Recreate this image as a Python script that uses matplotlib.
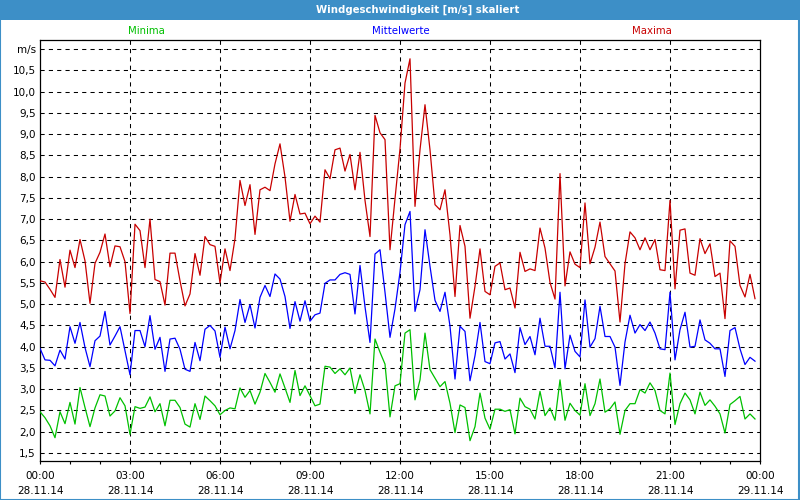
import numpy as np
import matplotlib
matplotlib.use("Agg")
import matplotlib.pyplot as plt
from matplotlib.patches import Rectangle

# ---- data (10-minute values, 28.11.14 00:00 .. 23:50) ----
maxima = [5.55,5.52,5.35,5.16,6.05,5.40,6.27,5.86,6.52,6.02,
          5.02,5.96,6.22,6.65,5.88,6.37,6.35,6.00,4.78,6.88,
          6.73,5.86,7.00,5.58,5.53,4.98,6.20,6.20,5.55,4.96,
          5.24,6.19,5.68,6.59,6.40,6.36,
          5.50,
          6.30,5.79,6.54,7.91,7.32,7.81,6.64,7.69,7.75,7.67,8.30,8.77,7.99,6.95,7.58,7.12,7.14,6.89,
          7.07,6.93,8.16,7.95,8.63,8.67,8.13,8.52,7.69,8.57,7.44,6.59,9.44,9.03,8.87,6.28,7.48,
          8.65,
          10.2,10.77,7.30,8.63,9.69,8.63,7.34,7.22,7.69,6.63,5.18,6.85,6.36,4.67,5.42,6.30,5.30,5.22,
          5.89,5.97,5.34,5.38,4.91,6.22,5.77,5.83,5.79,6.79,6.32,5.51,5.12,8.07,5.43,6.23,5.94,
          5.86,
          7.38,5.95,6.34,6.93,6.12,5.95,5.78,4.58,5.95,6.70,6.56,6.28,6.56,6.28,6.52,5.81,5.79,7.44,
          5.36,6.74,6.77,5.73,5.68,6.54,6.19,6.42,5.65,5.73,4.66,6.49,6.36,5.44,5.17,5.70,5.13]

mittel = [3.96,3.69,3.68,3.55,3.92,3.71,4.47,4.08,4.57,3.98,
          3.53,4.14,4.25,4.83,4.04,4.25,4.47,3.90,3.34,4.38,
          4.38,4.00,4.73,3.94,4.22,3.42,4.18,4.20,3.94,3.47,
          3.42,4.10,3.67,4.41,4.50,4.37,
          3.75,
          4.46,3.95,4.38,5.11,4.57,4.99,4.44,5.16,5.44,5.18,5.71,5.59,5.18,4.43,5.06,4.60,5.08,4.60,
          4.75,4.79,5.49,5.57,5.57,5.70,5.74,5.70,4.77,5.91,4.94,4.10,6.18,6.28,5.28,4.22,4.89,
          5.75,
          6.87,7.18,4.83,5.34,6.75,5.89,5.09,4.83,5.28,4.48,3.24,4.48,4.36,3.20,3.79,4.57,3.65,3.60,
          4.09,4.12,3.71,3.83,3.39,4.45,4.05,4.24,3.81,4.67,4.01,4.01,3.50,5.28,3.48,4.27,3.89,
          3.76,
          5.10,3.99,4.19,4.95,4.24,4.24,3.99,3.09,4.11,4.74,4.32,4.52,4.38,4.58,4.32,3.95,3.93,5.28,
          3.69,4.40,4.81,3.99,4.01,4.63,4.16,4.08,3.95,3.95,3.30,4.38,4.45,3.95,3.58,3.75,3.66]

minima = [2.47,2.33,2.14,1.86,2.47,2.19,2.69,2.18,3.04,2.57,
          2.12,2.56,2.87,2.84,2.37,2.49,2.80,2.61,1.94,2.59,
          2.55,2.58,2.82,2.47,2.66,2.14,2.74,2.74,2.57,2.18,
          2.11,2.66,2.29,2.84,2.73,2.61,
          2.40,
          2.50,2.56,2.54,3.03,2.81,2.97,2.65,2.93,3.37,3.16,2.93,3.36,3.03,2.69,3.44,2.85,3.08,2.85,
          2.61,2.65,3.54,3.52,3.37,3.48,3.34,3.50,2.90,3.34,2.97,2.42,4.18,3.87,3.59,2.35,3.08,
          3.13,
          4.32,4.40,2.75,3.22,4.32,3.46,3.26,3.06,3.18,2.67,1.98,2.63,2.57,1.79,2.12,2.91,2.32,2.06,
          2.53,2.53,2.48,2.52,1.95,2.79,2.59,2.53,2.30,2.95,2.38,2.56,2.27,3.22,2.27,2.67,2.50,
          2.39,
          3.13,2.38,2.66,3.24,2.46,2.54,2.70,1.94,2.50,2.66,2.66,2.99,2.91,3.15,2.97,2.50,2.42,3.38,
          2.17,2.66,2.91,2.75,2.42,2.93,2.62,2.75,2.60,2.42,1.97,2.64,2.73,2.83,2.30,2.42,2.30]

step_minutes = 10
xtick_hours = [0, 3, 6, 9, 12, 15, 18, 21, 24]
xtick_labels = ["00:00\n28.11.14", "03:00\n28.11.14", "06:00\n28.11.14",
                "09:00\n28.11.14", "12:00\n28.11.14", "15:00\n28.11.14",
                "18:00\n28.11.14", "21:00\n28.11.14", "00:00\n29.11.14"]
ytick_values = [1.5, 2.0, 2.5, 3.0, 3.5, 4.0, 4.5, 5.0, 5.5, 6.0, 6.5, 7.0,
                7.5, 8.0, 8.5, 9.0, 9.5, 10.0, 10.5, 11.0]
ytick_labels = [f"{v:.1f}".replace(".", ",") for v in ytick_values[:-1]] + ["m/s"]
title = "Windgeschwindigkeit [m/s] skaliert"
series_names = ["Minima", "Mittelwerte", "Maxima"]

# ---- styles ----
C_MIN, C_MID, C_MAX = "#00c000", "#0000ff", "#c80000"
HEADER = "#3d8fc7"
plt.rcParams['font.family'] = ['DejaVu Sans']

fig = plt.figure(figsize=(8, 5), dpi=100)
fig.patch.set_facecolor("white")

ax = fig.add_axes([40/800, 1-460.5/500, 720/800, 420.5/500])

def hours(n):
    return np.arange(n) * step_minutes / 60.0

ax.plot(hours(len(maxima)), maxima, color=C_MAX, lw=0.9, zorder=3)
ax.plot(hours(len(mittel)), mittel, color=C_MID, lw=0.9, zorder=3)
ax.plot(hours(len(minima)), minima, color=C_MIN, lw=0.9, zorder=3)

ax.set_xlim(0, 24)
ax.set_ylim(1.324, 11.212)

ax.set_xticks(xtick_hours)
ax.set_xticklabels(xtick_labels, fontsize=7.5, linespacing=1.65)
ax.set_xticks(np.arange(0, 25, 1), minor=True)
ax.tick_params(axis='x', which='both', direction='out', length=2.5, width=0.8, pad=5)
ax.set_yticks(ytick_values)
ax.set_yticklabels(ytick_labels, fontsize=7.5)
ax.tick_params(axis='y', length=0, pad=3)

for v in ytick_values:
    ax.axhline(v, color="black", lw=0.75, ls=(0, (4, 4)), zorder=1)
for h in xtick_hours[1:-1]:
    ax.axvline(h, color="black", lw=0.75, ls=(0, (4, 4)), zorder=1)

for s in ax.spines.values():
    s.set_linewidth(0.9)
    s.set_color("black")

# header bar and border
fig.patches.append(Rectangle((0, 1-20/500), 1, 20/500, transform=fig.transFigure,
                             facecolor=HEADER, edgecolor="none", zorder=0))
fig.patches.append(Rectangle((0.0005, 0.001), 0.998, 0.998, transform=fig.transFigure,
                             facecolor="none", edgecolor=HEADER, lw=1.5, zorder=5))
fig.text(418/800, 1-10/500, title, color="white", fontsize=7.3, fontweight="bold",
         ha="center", va="center")

fig.text(146/800, 1-31/500, series_names[0], color=C_MIN, fontsize=7.3, ha="center", va="center")
fig.text(401/800, 1-31/500, series_names[1], color=C_MID, fontsize=7.3, ha="center", va="center")
fig.text(652/800, 1-31/500, series_names[2], color=C_MAX, fontsize=7.3, ha="center", va="center")

fig.savefig("out.png", dpi=100)
